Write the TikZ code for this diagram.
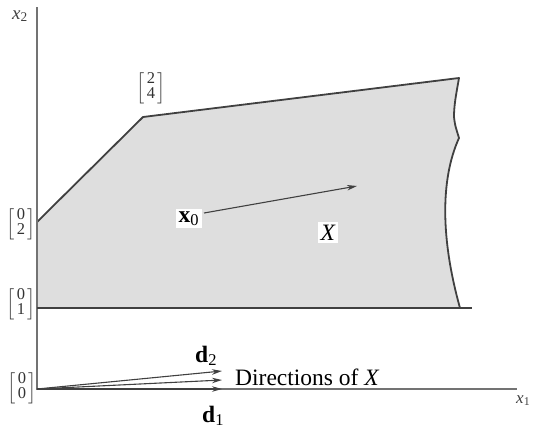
\documentclass[tikz,border=0pt]{standalone}
\usepackage{amsmath}
\usepackage{fontspec}
\setmainfont{Liberation Serif}
\usetikzlibrary{arrows.meta}
\definecolor{regfill}{gray}{0.87}
\definecolor{edge}{gray}{0.25}
\definecolor{axis}{gray}{0.45}
\newcommand{\colvec}[2]{$\renewcommand{\arraystretch}{0.78}\left[\begin{array}{@{\hspace{2pt}}c@{\hspace{2pt}}}\text{#1}\\\text{#2}\end{array}\right]$}
\tikzset{
  axisline/.style={draw=axis, line width=1.4pt},
  regionedge/.style={draw=edge, line width=1.8pt, line join=round},
  vecarrow/.style={draw=edge, line width=1.1pt, -{Stealth[length=10pt,width=5.5pt]}},
  axlbl/.style={inner sep=0pt, anchor=base west, text=black!75, font=\fontsize{19}{21}\selectfont},
  veclbl/.style={inner sep=0pt, anchor=base west, font=\fontsize{23.5}{26}\selectfont},
  matlbl/.style={inner sep=0pt, text=black!80, font=\fontsize{16.5}{18}\selectfont},
  whitebox/.style={fill=white, inner sep=2.5pt, anchor=base west, font=\fontsize{23.5}{26}\selectfont}
}
\begin{document}
\begin{tikzpicture}[x=1pt,y=-1pt]
\useasboundingbox (0,0) rectangle (535,429);
% key points
\coordinate (O) at (37,389);
\coordinate (Ytop) at (37,7);
\coordinate (Xend) at (517,389);
\coordinate (A) at (37,308);
\coordinate (B) at (37,222);
\coordinate (C) at (143,117);
\coordinate (D) at (459,78);
\coordinate (E) at (460,308);
\coordinate (Eext) at (472,308);
% region
\fill[regfill] (A) -- (B) -- (C) -- (D)
  .. controls (456,95) and (454,105) .. (454,117)
  .. controls (455,125) .. (459,138)
  .. controls (440,180) and (441,240) .. (E) -- cycle;
\draw[regionedge] (A) -- (B) -- (C) -- (D)
  .. controls (456,95) and (454,105) .. (454,117)
  .. controls (455,125) .. (459,138)
  .. controls (440,180) and (441,240) .. (E);
% axes
\draw[axisline] (Ytop) -- (O) -- (Xend);
\draw[regionedge] (A) -- (Eext);
% axis labels
\node[axlbl] (x2) at (12,19) {\textit{x}$_{\text{2}}$};
\node[axlbl, font=\fontsize{17}{19}\selectfont] (x1) at (516,403) {\textit{x}$_{\text{1}}$};
% matrix labels
\node[matlbl] (m24) at (151,88) {\colvec{2}{4}};
\node[matlbl] (m02) at (21,224) {\colvec{0}{2}};
\node[matlbl] (m01) at (21,304) {\colvec{0}{1}};
\node[matlbl] (m00) at (22,388) {\colvec{0}{0}};
% x0 arrow
\node[whitebox] (x0) at (176,222) {\textbf{x}$_{\text{0}}$};
\coordinate (x0s) at (204,213);
\coordinate (x0end) at (357,186);
\draw[vecarrow] (x0s) -- (x0end);
\node[whitebox] (Xlbl) at (318,240) {\textit{X}};
% directions
\coordinate (d1end) at (222,389);
\coordinate (dmend) at (222,380);
\coordinate (d2end) at (222,371);
\draw[vecarrow] (O) -- (d1end);
\draw[vecarrow] (O) -- (dmend);
\draw[vecarrow] (O) -- (d2end);
\node[veclbl] (d2) at (195,362) {\textbf{d}$_{\text{2}}$};
\node[veclbl] (d1) at (202,422) {\textbf{d}$_{\text{1}}$};
\node[veclbl] (dir) at (235,385) {Directions of \textit{X}};
\end{tikzpicture}
\end{document}
